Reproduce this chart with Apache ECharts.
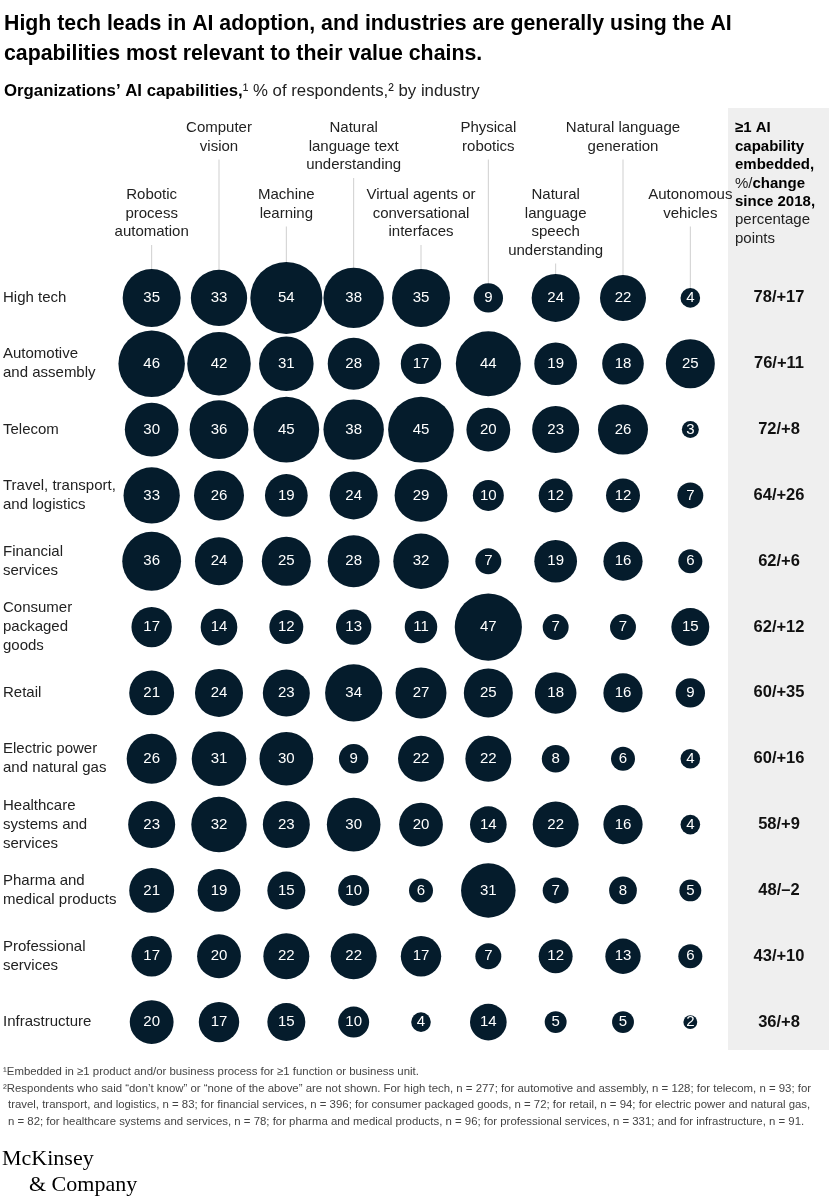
<!DOCTYPE html>
<html>
<head>
<meta charset="utf-8">
<title>Organizations' AI capabilities by industry</title>
<script src="https://cdn.jsdelivr.net/npm/echarts@6.0.0/dist/echarts.min.js"></script>
<style>
  html, body { margin: 0; padding: 0; background: #fff; }
  #chart { width: 829px; height: 1200px; }
</style>
</head>
<body>
<div id="chart"></div>
<script>
const industries = [
  'High tech', 'Automotive\nand assembly', 'Telecom', 'Travel, transport,\nand logistics',
  'Financial\nservices', 'Consumer\npackaged\ngoods', 'Retail', 'Electric power\nand natural gas',
  'Healthcare\nsystems and\nservices', 'Pharma and\nmedical products', 'Professional\nservices', 'Infrastructure'
];
const capabilities = [
  'Robotic\nprocess\nautomation', 'Computer\nvision', 'Machine\nlearning',
  'Natural\nlanguage text\nunderstanding', 'Virtual agents or\nconversational\ninterfaces',
  'Physical\nrobotics', 'Natural\nlanguage\nspeech\nunderstanding', 'Natural language\ngeneration',
  'Autonomous\nvehicles'
];

// % of respondents, one array per capability, in industry order
const rpa        = [35, 46, 30, 33, 36, 17, 21, 26, 23, 21, 17, 20];
const vision     = [33, 42, 36, 26, 24, 14, 24, 31, 32, 19, 20, 17];
const ml         = [54, 31, 45, 19, 25, 12, 23, 30, 23, 15, 22, 15];
const nlText     = [38, 28, 38, 24, 28, 13, 34, 9, 30, 10, 22, 10];
const agents     = [35, 17, 45, 29, 32, 11, 27, 22, 20, 6, 17, 4];
const robotics   = [9, 44, 20, 10, 7, 47, 25, 22, 14, 31, 7, 14];
const nlSpeech   = [24, 19, 23, 12, 19, 7, 18, 8, 22, 7, 12, 5];
const nlGen      = [22, 18, 26, 12, 16, 7, 16, 6, 16, 8, 13, 5];
const autonomous = [4, 25, 3, 7, 6, 15, 9, 4, 4, 5, 6, 2];

// >=1 capability embedded (%) and change since 2018 (pp)
const embedded = [78, 76, 72, 64, 62, 62, 60, 60, 58, 48, 43, 36];
const change   = [17, 11, 8, 26, 6, 12, 35, 16, 9, -2, 10, 8];

const footnotes = [
  '¹Embedded in ≥1 product and/or business process for ≥1 function or business unit.',
  '²Respondents who said “don’t know” or “none of the above” are not shown. For high tech, n = 277; for automotive and assembly, n = 128; for telecom, n = 93; for',
  'travel, transport, and logistics, n = 83; for financial services, n = 396; for consumer packaged goods, n = 72; for retail, n = 94; for electric power and natural gas,',
  'n = 82; for healthcare systems and services, n = 78; for pharma and medical products, n = 96; for professional services, n = 331; and for infrastructure, n = 91.'
];

const FONT = '"Liberation Sans", Arial, Helvetica, sans-serif';
const SERIF = '"Liberation Serif", "DejaVu Serif", serif';
const NAVY = '#051c2c';

// header labels alternate between an upper and a lower tier
const headerTier = [1, 0, 1, 0, 1, 0, 1, 0, 1];
const tierY = [128, 195];
const HEAD_LH = 18.5;

const columns = [rpa, vision, ml, nlText, agents, robotics, nlSpeech, nlGen, autonomous];
const points = [];
columns.forEach((col, c) => col.forEach((v, r) => points.push([c, r, v])));

const totalLabels = embedded.map((e, i) =>
  e + '/' + (change[i] < 0 ? '–' + Math.abs(change[i]) : '+' + change[i]));

const chart = echarts.init(document.getElementById('chart'), null, { renderer: 'canvas' });

const staticGraphic = [
  { type: 'rect', z: -10, shape: { x: 728, y: 108, width: 101, height: 942 }, style: { fill: '#efefef' } },
  {
    type: 'text', x: 4, y: 9,
    style: {
      text: 'High tech leads in AI adoption, and industries are generally using the AI\ncapabilities most relevant to their value chains.',
      font: 'bold 21.3px ' + FONT, fill: '#000', lineHeight: 30
    }
  },
  {
    type: 'text', x: 4, y: 81,
    style: {
      text: '{b|Organizations’ AI capabilities,}{r|¹ % of respondents,² by industry}',
      rich: {
        b: { fontFamily: FONT, fontSize: 16.8, fontWeight: 'bold', fill: '#000', lineHeight: 20 },
        r: { fontFamily: FONT, fontSize: 16.8, fill: '#222', lineHeight: 20 }
      }
    }
  },
  {
    type: 'text', x: 735, y: 119,
    style: {
      text: '{b|≥1 AI}\n{b|capability}\n{b|embedded,}\n{r|%/}{b|change}\n{b|since 2018,}\n{r|percentage}\n{r|points}',
      rich: {
        b: { fontFamily: FONT, fontSize: 15, fontWeight: 'bold', fill: '#000', lineHeight: 18.4 },
        r: { fontFamily: FONT, fontSize: 15, fill: '#222', lineHeight: 18.4 }
      }
    }
  },
  {
    type: 'text', x: 3, y: 1064,
    style: { text: footnotes[0], font: '11.4px ' + FONT, fill: '#444', lineHeight: 16.5 }
  },
  {
    type: 'text', x: 3, y: 1080.5,
    style: { text: footnotes[1], font: '11.4px ' + FONT, fill: '#444', lineHeight: 16.5 }
  },
  {
    type: 'text', x: 8, y: 1097,
    style: { text: footnotes[2] + '\n' + footnotes[3], font: '11.4px ' + FONT, fill: '#444', lineHeight: 16.5 }
  },
  {
    type: 'text', x: 2, y: 1148,
    style: { text: 'McKinsey', font: '22px ' + SERIF, fill: '#000' }
  },
  {
    type: 'text', x: 29, y: 1174,
    style: { text: '& Company', font: '22px ' + SERIF, fill: '#000' }
  }
];

const option = {
  animation: false,
  backgroundColor: '#fff',
  textStyle: { fontFamily: FONT },
  grid: { left: 118, right: 105, top: 265, bottom: 145 },
  xAxis: { type: 'category', data: capabilities, show: false },
  yAxis: [
    {
      type: 'category', data: industries, inverse: true, z: 5,
      axisLine: { show: false }, axisTick: { show: false }, splitLine: { show: false },
      axisLabel: { align: 'left', margin: 115, fontSize: 15, lineHeight: 19, color: '#222', fontFamily: FONT }
    },
    {
      type: 'category', data: totalLabels, inverse: true, position: 'right', z: 5,
      axisLine: { show: false }, axisTick: { show: false }, splitLine: { show: false },
      axisLabel: { align: 'center', margin: 55, fontSize: 16.5, fontWeight: 'bold', color: '#111', fontFamily: FONT }
    }
  ],
  series: [
    {
      type: 'scatter',
      data: points,
      symbolSize: d => 9.8 * Math.sqrt(d[2]),
      itemStyle: { color: NAVY, opacity: 1 },
      label: {
        show: true, position: 'inside', formatter: p => p.value[2],
        color: '#fff', fontSize: 15, fontFamily: FONT
      },
      emphasis: { disabled: true },
      z: 3
    }
  ],
  graphic: staticGraphic
};

chart.setOption(option);

// column headers and leader lines, positioned from the chart's own x scale
const headerGraphic = capabilities.map((label, c) => {
  const [cx, cy] = chart.convertToPixel({ gridIndex: 0 }, [c, 0]);
  const nLines = label.split('\n').length;
  const firstY = tierY[headerTier[c]];
  const lastY = firstY + (nLines - 1) * HEAD_LH;
  return {
    type: 'group',
    children: [
      {
        type: 'line', z: -5,
        shape: { x1: cx, y1: lastY + 13, x2: cx, y2: cy },
        style: { stroke: '#cfcfcf', lineWidth: 1 }
      },
      {
        type: 'text', x: cx, y: firstY - HEAD_LH / 2,
        style: {
          text: label, font: '15px ' + FONT, fill: '#222',
          textAlign: 'center', textVerticalAlign: 'top', lineHeight: HEAD_LH
        }
      }
    ]
  };
});

chart.setOption({ graphic: staticGraphic.concat(headerGraphic) });
</script>
</body>
</html>
